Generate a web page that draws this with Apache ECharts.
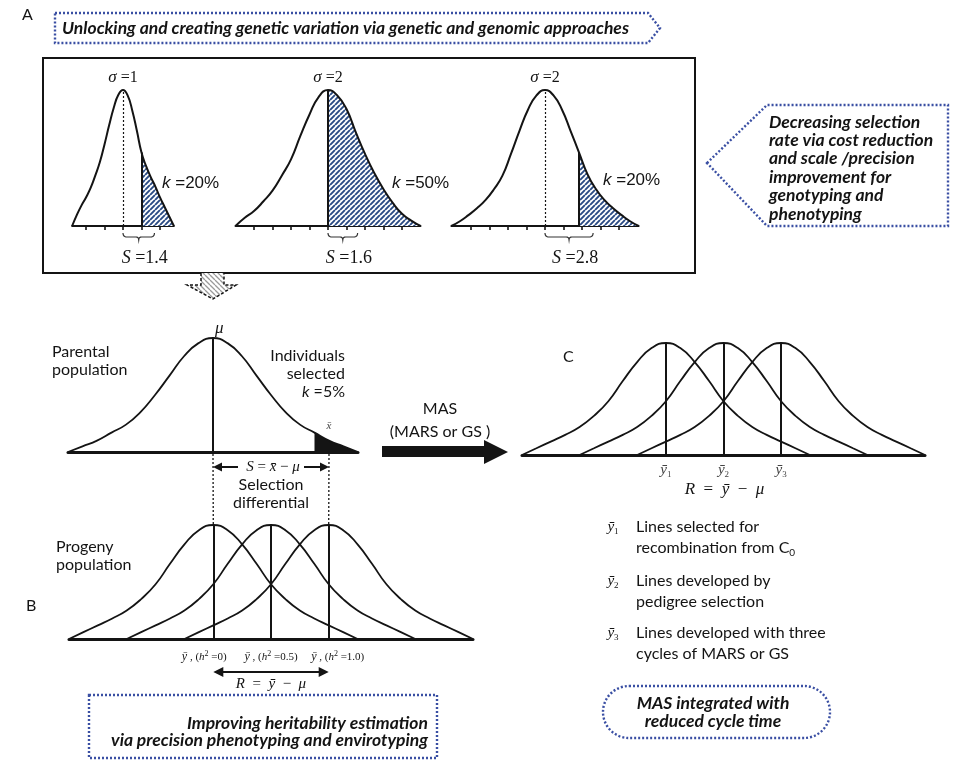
<!DOCTYPE html>
<html><head><meta charset="utf-8">
<script src="https://cdn.jsdelivr.net/npm/echarts@6/dist/echarts.min.js"></script>
<style>html,body{margin:0;padding:0;background:#fff}#c{width:959px;height:770px}</style>
</head><body><div id="c"></div>
<script>
// ================= DATA =================
// Panel A: three selection scenarios (x in axis units, y relative height)
const curveA1X = [-2.75,-2.5,-2.25,-2,-1.75,-1.5,-1.25,-1,-0.75,-0.5,-0.25,0,0.25,0.5,0.75,1,1.25,1.5,1.75,2,2.25,2.5,2.75];
const curveA1Y = [0,0.08,0.15,0.21,0.28,0.37,0.47,0.6,0.74,0.87,0.965,1,0.96,0.85,0.7,0.54,0.44,0.36,0.29,0.21,0.14,0.07,0];
const curveA2X = [-5,-4.5,-4,-3.5,-3,-2.5,-2,-1.5,-1,-0.5,0,0.5,1,1.5,2,2.5,3,3.5,4,4.5,5];
const curveA2Y = [0,0.06,0.11,0.18,0.26,0.37,0.49,0.66,0.82,0.95,1,0.96,0.86,0.69,0.53,0.39,0.27,0.17,0.09,0.04,0];
const curveA3X = [-5.06,-4.6,-4.14,-3.68,-3.22,-2.76,-2.3,-1.84,-1.38,-0.92,-0.46,0,0.46,0.92,1.38,1.84,2.3,2.76,3.22,3.68,4.14,4.6,5.06];
const curveA3Y = [0,0.035,0.08,0.13,0.19,0.27,0.37,0.53,0.7,0.855,0.96,1,0.96,0.855,0.7,0.54,0.38,0.27,0.19,0.13,0.08,0.035,0];
const ticksA1 = [-2,-1,0,1,2];
const ticksA2 = [-4,-3,-2,-1,0,1,2,3,4];
const ticksA3 = [-4,-3,-2,-1,0,1,2,3,4];
const sigmaA = ['1','2','2'];
const kA = ['20%','50%','20%'];
const sA = ['1.4','1.6','2.8'];
const cutA = [1, 0, 1.84];
const braceEndA = [1.7, 1.6, 2.6];
const meanLineA = ['dotted','solid','dotted'];

// Panel B: parental population
const parentX = [-3,-2.7,-2.4,-2.1,-1.8,-1.5,-1.2,-0.9,-0.6,-0.3,0,0.3,0.6,0.9,1.2,1.5,1.8,2.1,2.4,2.7,3];
const parentY = [0,0.05,0.1,0.17,0.24,0.35,0.5,0.67,0.84,0.955,1,0.955,0.84,0.67,0.5,0.35,0.24,0.17,0.1,0.05,0];
const parentCut = 2.1;
const parentSelMean = 2.4;
// Panel B: progeny populations (same profile, shifted means)
const progenyX = [-3,-2.7,-2.4,-2.1,-1.8,-1.5,-1.2,-0.9,-0.6,-0.3,0,0.3,0.6,0.9,1.2,1.5,1.8,2.1,2.4,2.7,3];
const progenyY = [0,0.06,0.12,0.18,0.25,0.35,0.48,0.66,0.83,0.955,1,0.955,0.83,0.66,0.48,0.35,0.25,0.18,0.12,0.06,0];
const progenyMeans = [0,1.2,2.4];
const progenyH2 = ['0','0.5','1.0'];
// Panel C
const cMeans = [0,1.2,2.4];
const cSubs = ['1','2','3'];

// Texts
const bannerText = 'Unlocking and creating genetic variation via genetic and genomic approaches';
const calloutLines = ['Decreasing selection','rate via cost reduction','and scale /precision','improvement for','genotyping and','phenotyping'];
const heritLines = ['Improving heritability estimation','via precision phenotyping and envirotyping'];
const ellipseLines = ['MAS integrated with','reduced cycle time'];
const legendC = [
  ['Lines selected for','recombination from C','0'],
  ['Lines developed by','pedigree selection',''],
  ['Lines developed with three','cycles of MARS or GS','']
];

// ================= LAYOUT / STYLE =================
const SANS = 'Lato', SERIF = 'Liberation Serif', ARIAL = 'Liberation Sans';
const INK = '#141414', DOT = '#3a4fa3';
const BI = 17.5; // bold-italic note size
const ppuA = 18.5, meanPxA = [123, 328, 545], topA = 90, baseA = 226;

function hatch(color, bg, size, lw, dir) {
  const c = document.createElement('canvas'); c.width = c.height = size;
  const g = c.getContext('2d'); g.fillStyle = bg; g.fillRect(0,0,size,size);
  g.strokeStyle = color; g.lineWidth = lw; g.beginPath();
  for (let k=-1;k<=1;k++){
    if (dir>0){ g.moveTo(k*size, size); g.lineTo(k*size+size, 0); }
    else { g.moveTo(k*size, 0); g.lineTo(k*size+size, size); }
  }
  g.stroke(); return c;
}
const hatchBlue = hatch('#2a4b85', '#ffffff', 5, 1.9, 1);
const hatchGrey = hatch('#9a9a9a', '#ffffff', 5, 1.3, -1);

const pts = (xs, ys, dx) => xs.map((x,i) => [x + (dx||0), ys[i]]);

const grids = [], xAxes = [], yAxes = [], series = [];
function addGrid(left, top, width, height, xmin, xmax, axisExtra) {
  const gi = grids.length;
  grids.push({left, top, width, height, containLabel:false, outerBoundsMode:'none'});
  xAxes.push(Object.assign({type:'value', gridIndex:gi, min:xmin, max:xmax,
    splitLine:{show:false}, axisLabel:{show:false}, axisTick:{show:false},
    axisLine:{show:true, onZero:false, lineStyle:{color:INK, width:3}}}, axisExtra||{}));
  yAxes.push({type:'value', gridIndex:gi, min:0, max:1, show:false});
  return gi;
}
const mlBase = {silent:true, symbol:'none', label:{show:false}, emphasis:{disabled:true}, lineStyle:{color:INK, width:2, type:'solid'}};
const SM = 0.5;

// ---- Panel A grids ----
const curvesA = [[curveA1X,curveA1Y,ticksA1],[curveA2X,curveA2Y,ticksA2],[curveA3X,curveA3Y,ticksA3]];
curvesA.forEach(([xs,ys,ticks],i) => {
  const xmin = xs[0], xmax = xs[xs.length-1];
  const gi = addGrid(meanPxA[i] + xmin*ppuA, topA, (xmax-xmin)*ppuA, baseA-topA, xmin, xmax, {
    axisLine:{show:true, onZero:false, lineStyle:{color:INK, width:2}},
    axisTick:{show:true, customValues:ticks, length:4, inside:false, lineStyle:{color:INK, width:1.6}}
  });
  const data = pts(xs, ys);
  const ci = xs.indexOf(cutA[i]);
  series.push({type:'line', xAxisIndex:gi, yAxisIndex:gi, data:data.slice(ci), smooth:SM, symbol:'none',
    lineStyle:{width:0}, areaStyle:{color:{image:hatchBlue, repeat:'repeat'}, opacity:1}, silent:true, z:2});
  const ml = [];
  if (meanLineA[i] === 'dotted') ml.push([{coord:[0,0], lineStyle:{type:[2,2], width:1.2, color:INK}},{coord:[0,1]}]);
  ml.push([{coord:[cutA[i],0]},{coord:[cutA[i], ys[ci]]}]);
  series.push({type:'line', xAxisIndex:gi, yAxisIndex:gi, data, smooth:SM, symbol:'none', silent:true,
    lineStyle:{color:INK, width:2}, markLine:Object.assign({}, mlBase, {data:ml}), z:3});
});

// ---- Parental ----
const gP = addGrid(68, 338, 290, 114, parentX[0], parentX[parentX.length-1]);
{
  const data = pts(parentX, parentY);
  const ci = parentX.indexOf(parentCut);
  series.push({type:'line', xAxisIndex:gP, yAxisIndex:gP, data:data.slice(ci), smooth:SM, symbol:'none',
    lineStyle:{width:0}, areaStyle:{color:INK, opacity:1}, silent:true, z:2});
  series.push({type:'line', xAxisIndex:gP, yAxisIndex:gP, data, smooth:SM, symbol:'none', silent:true,
    lineStyle:{color:INK, width:1.8}, markLine:Object.assign({}, mlBase, {data:[[{coord:[0,0]},{coord:[0,1]}]]}), z:3});
}

// ---- Progeny ----
const gG = addGrid(69, 525, 404, 114, -3, 5.4);
progenyMeans.forEach(m => {
  series.push({type:'line', xAxisIndex:gG, yAxisIndex:gG, data:pts(progenyX, progenyY, m), smooth:SM, symbol:'none', silent:true,
    lineStyle:{color:INK, width:1.8}, markLine:Object.assign({}, mlBase, {data:[[{coord:[m,0]},{coord:[m,1]}]]}), z:3});
});

// ---- Panel C ----
const richC = {
  y:{fontFamily:SERIF, fontStyle:'italic', fontSize:15, color:'#444'},
  sub:{fontFamily:SERIF, fontSize:9, color:'#444', verticalAlign:'bottom', lineHeight:18}
};
const gC = addGrid(522, 343, 403, 112, -3, 5.4, {
  axisLabel:{show:true, customValues:cMeans, margin:6, rich:richC, lineHeight:18,
    formatter:(v)=>{ const i = cMeans.findIndex(m=>Math.abs(m-v)<1e-6); return i<0?'':'{y|ȳ}{sub|'+cSubs[i]+'}'; }}
});
cMeans.forEach(m => {
  series.push({type:'line', xAxisIndex:gC, yAxisIndex:gC, data:pts(progenyX, progenyY, m), smooth:SM, symbol:'none', silent:true,
    lineStyle:{color:INK, width:1.8}, markLine:Object.assign({}, mlBase, {data:[[{coord:[m,0]},{coord:[m,1]}]]}), z:3});
});

const chart = echarts.init(document.getElementById('c'), null, {renderer:'canvas', width:959, height:770});
chart.setOption({animation:false, backgroundColor:'#fff', grid:grids, xAxis:xAxes, yAxis:yAxes, series});

// ================= ANNOTATIONS =================
const px = (gi, p) => chart.convertToPixel({gridIndex:gi}, p);
const G = [];
function txt(x, y, text, o) {
  o = o || {};
  const st = {text, fill:o.fill||INK, fontFamily:o.family||SANS, fontSize:o.size||16, fontStyle:o.style||'normal', fontWeight:o.weight||'normal',
    align:o.align||'left', verticalAlign:'middle', textAlign:o.align||'left', textVerticalAlign:'middle'};
  if (o.rich) st.rich = o.rich;
  G.push({type:'text', x, y, silent:true, z:20, style:st});
}
function poly(points, style, z) { G.push({type:'polygon', silent:true, z:z||20, shape:{points}, style:Object.assign({fill:INK}, style||{})}); }
function pline(points, style, z) { G.push({type:'polyline', silent:true, z:z||20, shape:{points}, style:Object.assign({stroke:INK, lineWidth:1.5, fill:'none'}, style||{})}); }
function line(x1,y1,x2,y2,st){ G.push({type:'line', silent:true, z:20, shape:{x1,y1,x2,y2}, style:Object.assign({stroke:INK, lineWidth:1.5}, st||{})}); }
function arrowHead(x, y, dir, len, half) { poly([[x,y],[x-dir*len,y-half],[x-dir*len,y+half]]); }
function quad(p0, p1, p2, n) { const out=[]; for (let j=0;j<=n;j++){ const t=j/n, a=(1-t)*(1-t), b=2*(1-t)*t, c=t*t; out.push([a*p0[0]+b*p1[0]+c*p2[0], a*p0[1]+b*p1[1]+c*p2[1]]); } return out; }
const dotted = {stroke:DOT, lineWidth:2.4, lineDash:[2,2], fill:'none'};

// Panel labels
txt(22, 15, 'A', {size:16});
txt(26, 606, 'B', {size:16});
txt(563, 357, 'C', {size:16});

// Banner
poly([[55,13],[648,13],[660,28],[648,43],[55,43]], dotted, 10);
txt(62, 28, bannerText, {size:BI, style:'italic', weight:'bold'});

// Box A
G.push({type:'rect', silent:true, z:10, shape:{x:43, y:58, width:652, height:215}, style:{stroke:INK, lineWidth:2, fill:'none'}});

// Callout
poly([[707,163],[767,105],[948,105],[948,226],[767,226]], dotted, 10);
calloutLines.forEach((l,i) => txt(769, 122 + i*18.4, l, {size:BI, style:'italic', weight:'bold'}));

// A labels
const richSig = {i:{fontFamily:SERIF, fontStyle:'italic', fontSize:17, color:INK}, n:{fontFamily:SERIF, fontSize:16, color:INK}};
const richK = {i:{fontFamily:ARIAL, fontStyle:'italic', fontSize:17, color:INK}, n:{fontFamily:ARIAL, fontSize:17, color:INK}};
const richS = {i:{fontFamily:SERIF, fontStyle:'italic', fontSize:18, color:INK}, n:{fontFamily:SERIF, fontSize:18, color:INK}};
const kLabelPos = [[162,183],[392,183],[603,180]];
for (let i=0;i<3;i++){
  const pk = px(i, [0,1]);
  const p0 = px(i, [0,0]);
  txt(pk[0], pk[1]-12, '{i|σ}{n| =' + sigmaA[i] + '}', {rich:richSig, align:'center', family:SERIF});
  txt(kLabelPos[i][0], kLabelPos[i][1], '{i|k}{n| =' + kA[i] + '}', {rich:richK, family:ARIAL});
  const pb = px(i, [braceEndA[i],0]);
  const xa = p0[0], xb = pb[0], xm = (xa+xb)/2, y0 = baseA + 7;
  const br = [].concat(
    quad([xa,y0],[xa,y0+4],[xa+4,y0+4],6),
    [[xm-3,y0+4]],
    quad([xm-3,y0+4],[xm,y0+4],[xm,y0+7],4),
    quad([xm,y0+7],[xm,y0+4],[xm+3,y0+4],4),
    [[xb-4,y0+4]],
    quad([xb-4,y0+4],[xb,y0+4],[xb,y0],6));
  pline(br, {stroke:'#333', lineWidth:1.2});
  txt(xm + 6, 258, '{i|S}{n| =' + sA[i] + '}', {rich:richS, align:'center', family:SERIF});
}

// Down hatched arrow
poly([[201,273],[201,285],[187,285],[213,299],[236,285],[224,285],[224,273]], {fill:{image:hatchGrey, repeat:'repeat'}}, 10);
pline([[201,273],[201,285],[187,285],[213,299],[236,285],[224,285],[224,273]], {lineDash:[3,2], lineWidth:1.5}, 11);

// Parental texts
txt(52, 352, 'Parental', {size:16});
txt(52, 370, 'population', {size:16});
const pMu = px(gP, [0,1]);
txt(pMu[0]+2, pMu[1]-9, 'μ', {family:SERIF, style:'italic', size:17});
txt(345, 356, 'Individuals', {size:16, align:'right'});
txt(345, 374, 'selected', {size:16, align:'right'});
txt(345, 392, '{i|k}{n| =5%}', {align:'right', rich:{i:{fontFamily:SANS, fontStyle:'italic', fontSize:16, color:INK}, n:{fontFamily:SANS, fontSize:16, color:INK}}});
const pSel = px(gP, [parentSelMean, 0]);
txt(pSel[0], 426, 'x̄', {family:SERIF, style:'italic', size:11, align:'center', fill:'#444'});

// MAS arrow
txt(440, 409, 'MAS', {size:16, align:'center'});
txt(440, 432, '(MARS or GS )', {size:16, align:'center'});
poly([[382,446],[484,446],[484,440],[508,452],[484,464],[484,457],[382,457]]);

// Connectors parental -> progeny
const pA0 = px(gP, [0,0]), pA1 = px(gP, [parentSelMean,0]);
const gA0 = px(gG, [progenyMeans[0],1]), gA2 = px(gG, [progenyMeans[2],1]);
line(pA0[0], pA0[1]+2, gA0[0], gA0[1], {lineDash:[2,2], lineWidth:1.3});
line(pA1[0], pA1[1]+2, gA2[0], gA2[1], {lineDash:[2,2], lineWidth:1.3});
// S arrows
const sy = 467;
line(pA0[0]+6, sy, pA0[0]+25, sy, {lineWidth:2});
arrowHead(pA0[0], sy, -1, 9, 4.5);
line(pA1[0]-25, sy, pA1[0]-6, sy, {lineWidth:2});
arrowHead(pA1[0], sy, 1, 9, 4.5);
const richM = {i:{fontFamily:SERIF, fontStyle:'italic', fontSize:15, color:'#333'}, n:{fontFamily:SERIF, fontSize:15, color:'#333'}};
txt((pA0[0]+pA1[0])/2 + 2, sy, '{i|S}{n| = }{i|x̄}{n| − }{i|μ}', {rich:richM, align:'center', family:SERIF});
txt((pA0[0]+pA1[0])/2, 485, 'Selection', {size:16, align:'center'});
txt((pA0[0]+pA1[0])/2, 503, 'differential', {size:16, align:'center'});

// Progeny text
txt(56, 547, 'Progeny', {size:16});
txt(56, 565, 'population', {size:16});
// progeny mean labels
const richH = {
  y:{fontFamily:SERIF, fontStyle:'italic', fontSize:12, color:'#444'},
  t:{fontFamily:SERIF, fontSize:11, color:'#444'},
  i:{fontFamily:SERIF, fontStyle:'italic', fontSize:11, color:'#444'},
  sup:{fontFamily:SERIF, fontSize:8, color:'#444', verticalAlign:'top', lineHeight:14}
};
const labOff = [-9, 0, 9];
progenyMeans.forEach((m,i) => {
  const p = px(gG, [m,0]);
  txt(p[0]+labOff[i], 657, '{y|ȳ}{t| , (}{i|h}{sup|2}{t| =' + progenyH2[i] + ')}', {rich:richH, align:'center', family:SERIF});
});
// R arrow
const r0 = px(gG, [progenyMeans[0],0]), r2 = px(gG, [progenyMeans[2],0]);
const ry = 672;
line(r0[0]+8, ry, r2[0]-8, ry, {lineWidth:2});
arrowHead(r0[0], ry, -1, 10, 5);
arrowHead(r2[0], ry, 1, 10, 5);
txt((r0[0]+r2[0])/2, 684, '{i|R}{n|  =  }{i|ȳ}{n|  −  }{i|μ}', {rich:richM, align:'center', family:SERIF});

// Heritability box
G.push({type:'rect', silent:true, z:10, shape:{x:89, y:695, width:348, height:63}, style:dotted});
heritLines.forEach((l,i) => txt(428, 723 + i*17.5, l, {size:BI, style:'italic', weight:'bold', align:'right'}));

// Panel C formula
const c0 = px(gC, [cMeans[1],0]);
const richR = {i:{fontFamily:SERIF, fontStyle:'italic', fontSize:17, color:'#333'}, n:{fontFamily:SERIF, fontSize:17, color:'#333'}};
txt(c0[0]+1, 490, '{i|R}{n|  =  }{i|ȳ}{n|  −  }{i|μ}', {rich:richR, align:'center', family:SERIF});

// Legend C
const legY = [527, 581, 633];
const richL = {n:{fontFamily:SANS, fontSize:16, color:INK}, sub:{fontFamily:SANS, fontSize:10, color:INK, verticalAlign:'bottom', lineHeight:20}};
legendC.forEach((lines,i) => {
  txt(613, legY[i], '{y|ȳ}{sub|' + cSubs[i] + '}', {rich:richC, align:'center', family:SERIF});
  txt(636, legY[i], '{n|' + lines[0] + '}', {rich:richL});
  txt(636, legY[i] + 20.5, '{n|' + lines[1] + '}' + (lines[2] ? '{sub|' + lines[2] + '}' : ''), {rich:richL});
});

// Ellipse box
G.push({type:'rect', silent:true, z:10, shape:{x:603, y:686, width:227, height:52, r:26}, style:dotted});
ellipseLines.forEach((l,i) => txt(713, 703 + i*18, l, {size:BI, style:'italic', weight:'bold', align:'center'}));

chart.setOption({graphic:{elements:G}});
</script></body></html>
